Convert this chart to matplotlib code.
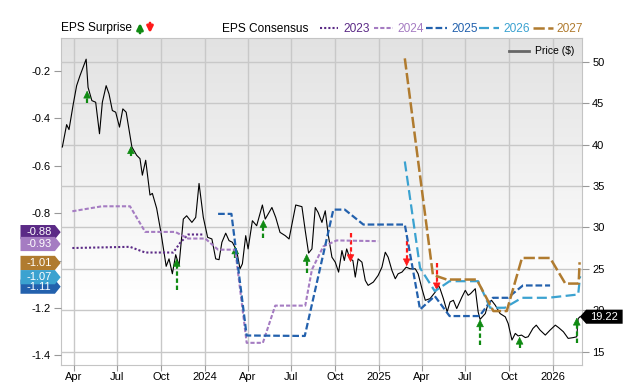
import numpy as np
import pandas as pd
import matplotlib
matplotlib.use("Agg")
import matplotlib.pyplot as plt
import matplotlib.dates as mdates
from matplotlib.lines import Line2D
from matplotlib.patches import Polygon
from matplotlib.colors import LinearSegmentedColormap

plt.rcParams['font.family'] = ['Liberation Sans', 'DejaVu Sans']

# all x positions are days after this date
BASE = pd.Timestamp("2023-03-03")

# price ($), right axis
price_days = [5, 14, 19, 28, 35, 42, 55, 59, 67, 75, 83, 89, 97, 103, 110, 117, 125, 132, 139,
              151, 161, 168, 173, 180, 189, 194, 203, 212, 223, 229, 236, 243, 250, 259, 266,
              277, 285, 292, 301, 310, 319, 327, 334, 340, 348, 355, 362, 371, 378, 383, 390,
              395, 404, 413, 425, 431, 445, 453, 462, 473, 481, 495, 508, 515, 522, 529, 536,
              542, 550, 557, 563, 571, 578, 585, 592, 597, 602, 609, 615, 620, 626, 634, 641,
              647, 658, 668, 676, 683, 689, 697, 704, 710, 718, 727, 735, 746, 752, 760, 767,
              777, 788, 795, 798, 805, 813, 819, 826, 833, 844, 851, 857, 862, 872, 878, 882,
              893, 899, 906, 914, 924, 935, 941, 949, 956, 962, 969, 977, 983, 993, 1000, 1008,
              1019, 1029, 1040, 1047, 1057, 1067, 1078, 1085, 1088, 1092]
price = [39.7, 42.4, 41.8, 44.9, 47.1, 48.3, 50.3, 46.9, 45.3, 45.1, 41.3, 45.1, 47.1, 46.1,
         44.1, 43.9, 42.1, 44.3, 43.9, 39.7, 38.7, 38.3, 36.3, 38.1, 33.9, 34.1, 32.3, 29.4,
         25.3, 26.2, 24.4, 26.7, 25.4, 31.0, 31.4, 30.6, 31.2, 35.3, 31.2, 28.8, 28.6, 26.2,
         26.1, 28.2, 29.3, 28.4, 28.2, 27.2, 25.0, 25.6, 29.0, 27.4, 30.8, 30.2, 32.7, 31.0,
         32.4, 31.2, 29.4, 29.0, 28.6, 32.7, 32.5, 29.6, 26.9, 27.4, 32.4, 31.8, 30.6, 32.0,
         29.2, 26.4, 25.8, 24.6, 27.2, 26.0, 27.4, 26.2, 26.0, 24.0, 26.2, 25.8, 23.6, 23.0,
         23.4, 24.2, 25.2, 27.0, 26.4, 24.8, 23.8, 24.4, 24.6, 25.2, 25.0, 25.0, 24.4, 22.6,
         21.2, 21.4, 22.2, 23.0, 22.6, 21.4, 19.8, 21.0, 21.2, 20.2, 21.6, 22.4, 21.8, 22.0,
         22.6, 19.8, 18.9, 19.6, 20.8, 21.2, 20.6, 19.6, 19.2, 18.4, 16.4, 17.2, 16.9, 17.0,
         16.7, 16.8, 17.8, 18.2, 17.6, 17.0, 17.6, 18.2, 17.9, 17.4, 16.6, 16.7, 16.8, 19.0,
         19.22]

# EPS consensus per fiscal year, left axis
eps_2023_days = [26, 147, 179, 238, 252, 269, 301]
eps_2023 = [-0.947, -0.942, -0.966, -0.966, -0.926, -0.89, -0.89]
eps_2024_days = [26, 88, 147, 179, 242, 269, 305, 332, 368, 392, 426, 452, 515, 529, 553, 581, 668]
eps_2024 = [-0.792, -0.771, -0.771, -0.879, -0.879, -0.907, -0.907, -0.954, -0.954, -1.347,
            -1.347, -1.19, -1.19, -1.038, -0.94, -0.915, -0.918]
eps_2025_days = [332, 360, 392, 514, 574, 598, 637, 724, 756, 787, 818, 881, 909, 940, 972, 1029]
eps_2025 = [-0.803, -0.803, -1.316, -1.318, -0.785, -0.785, -0.848, -0.848, -1.206, -1.15,
            -1.234, -1.234, -1.157, -1.157, -1.105, -1.105]
eps_2026_days = [724, 756, 787, 818, 878, 903, 934, 970, 1025, 1088, 1092]
eps_2026 = [-0.582, -1.031, -1.129, -1.087, -1.087, -1.199, -1.199, -1.157, -1.157, -1.143, -1.066]
eps_2027_days = [724, 783, 812, 875, 910, 938, 970, 1029, 1061, 1089, 1091]
eps_2027 = [-0.147, -1.06, -1.08, -1.08, -1.213, -1.213, -0.989, -0.989, -1.097, -1.097, -1.007]

# EPS surprise arrows, drawn on the price scale
beat_days = [57, 149, 245, 368, 427, 518, 882, 965, 1085]
beat_base = [45.0, 38.6, 22.4, 26.3, 28.7, 24.5, 15.8, 15.5, 16.1]
beat_tip = [46.5, 39.8, 26.2, 27.7, 30.9, 26.8, 18.9, 16.8, 19.1]
miss_days = [610, 728, 791]
miss_base = [29.3, 28.4, 25.7]
miss_tip = [25.8, 25.3, 22.4]

# latest consensus tags on the left
tag_values = [-0.88, -0.93, -1.01, -1.11, -1.07]
tag_labels = ["-0.88", "-0.93", "-1.01", "-1.11", "-1.07"]
last_price = 19.22

C23, C24, C25, C26, C27 = "#5b2a86", "#a57cc2", "#2361ad", "#3ba2d0", "#b07b2f"
tag_colors = [C23, C24, C27, C25, C26]
GREEN, RED = "#0f8a12", "#ff1a1a"


def to_dates(days):
    return BASE + pd.to_timedelta(days, unit="D")


fig = plt.figure(figsize=(6.4, 3.82), dpi=100)
ax = fig.add_axes([0.0948, 0.0445, 0.8153, 0.857])
ax_eps = ax.twinx()

xmin, xmax = to_dates([1.5, 1097])
ax.set_xlim(xmin, xmax)
ax.set_ylim(13.39, 52.9)
ax_eps.set_ylim(-1.4405, -0.0595)

# background gradient (light grey at top fading to white)
frac = np.linspace(1, 0, 200).reshape(-1, 1)
grad = np.clip((frac - 0.2) / 0.8, 0, 1)
cmap = LinearSegmentedColormap.from_list("bg", ["#ffffff", "#e2e2e2"])
ax.imshow(grad, extent=[mdates.date2num(xmin), mdates.date2num(xmax), 13.39, 52.9],
          aspect="auto", cmap=cmap, vmin=0, vmax=1, zorder=0)

# grid
ax.set_yticks([15, 20, 25, 30, 35, 40, 45, 50])
ax.xaxis.set_major_locator(mdates.MonthLocator(bymonth=[1, 4, 7, 10]))
ax.xaxis.set_major_formatter(plt.FuncFormatter(
    lambda v, p: mdates.num2date(v).strftime("%Y" if mdates.num2date(v).month == 1 else "%b")))
ax.grid(True, color="#c8c8c8", lw=1, zorder=1)
ax.set_axisbelow(False)
for s in ax.spines.values():
    s.set_color("#c4c4c4")
for s in ax_eps.spines.values():
    s.set_visible(False)

ax.yaxis.tick_right()
ax_eps.yaxis.tick_left()
ax.tick_params(axis="y", length=5, color="#999999", labelsize=8, pad=2)
ax.tick_params(axis="x", length=4, color="#999999", labelsize=8, pad=1)
ax_eps.set_yticks([-0.2, -0.4, -0.6, -0.8, -1.0, -1.2, -1.4])
ax_eps.yaxis.set_major_formatter(plt.FuncFormatter(lambda v, p: f"{v:g}"))
ax_eps.tick_params(axis="y", length=5, color="#999999", labelsize=8, pad=2)

# price line
ax.plot(to_dates(price_days), price, color="black", lw=0.8, zorder=3)

# surprise arrows
for d, b, t in zip(beat_days, beat_base, beat_tip):
    dt = to_dates([d])[0]
    ax.plot([dt, dt], [b, t - 0.7], color=GREEN, lw=1.6, dashes=(2, 1.2), zorder=4)
    ax.annotate("", xy=(dt, t), xytext=(0, -7), textcoords="offset points",
                arrowprops=dict(arrowstyle="-|>", color=GREEN, lw=0.5, mutation_scale=12,
                                shrinkA=0, shrinkB=0), zorder=5)
for d, b, t in zip(miss_days, miss_base, miss_tip):
    dt = to_dates([d])[0]
    ax.plot([dt, dt], [b, t + 0.7], color=RED, lw=1.6, dashes=(2, 1.2), zorder=4)
    ax.annotate("", xy=(dt, t), xytext=(0, 7), textcoords="offset points",
                arrowprops=dict(arrowstyle="-|>", color=RED, lw=0.5, mutation_scale=12,
                                shrinkA=0, shrinkB=0), zorder=5)

# consensus lines
ax_eps.plot(to_dates(eps_2023_days), eps_2023, color=C23, lw=1.5, dashes=(1, 1))
ax_eps.plot(to_dates(eps_2024_days), eps_2024, color=C24, lw=1.5, dashes=(2, 1))
ax_eps.plot(to_dates(eps_2025_days), eps_2025, color=C25, lw=1.6, dashes=(3, 1.3))
ax_eps.plot(to_dates(eps_2026_days), eps_2026, color=C26, lw=1.6, dashes=(4.5, 2))
ax_eps.plot(to_dates(eps_2027_days), eps_2027, color=C27, lw=1.8, dashes=(4.5, 1.4))

# left value tags
tr = ax_eps.get_yaxis_transform()
h = 0.03
for v, lab, c in zip(tag_values, tag_labels, tag_colors):
    poly = Polygon([(-0.077, v - h), (-0.011, v - h), (0, v), (-0.011, v + h), (-0.077, v + h)],
                   closed=True, transform=tr, facecolor=c, edgecolor="none", clip_on=False, zorder=10)
    ax_eps.add_patch(poly)
    ax_eps.text(-0.042, v, lab, transform=tr, color="white", fontsize=8, ha="center",
                va="center", clip_on=False, zorder=11)

# right price tag
trp = ax.get_yaxis_transform()
hp = 0.85
ax.add_patch(Polygon([(0.995, last_price), (1.007, last_price + hp), (1.077, last_price + hp),
                      (1.077, last_price - hp), (1.007, last_price - hp)], closed=True,
                     transform=trp, facecolor="black", edgecolor="none", clip_on=False, zorder=10))
ax.text(1.042, last_price, f"{last_price:.2f}", transform=trp, color="white", fontsize=8,
        ha="center", va="center", clip_on=False, zorder=11)


def fx(x):
    return x / 640


def fy(y):
    return 1 - y / 382


# header
fig.text(fx(60.7), fy(28.5), "EPS Surprise", fontsize=8.6, va="center", ha="left")
ax.annotate("", xy=(140, 382 - 23), xytext=(140, 382 - 33), xycoords="figure pixels",
            arrowprops=dict(arrowstyle="-|>", color=GREEN, lw=2, mutation_scale=9,
                            shrinkA=0, shrinkB=0))
ax.annotate("", xy=(150, 382 - 33), xytext=(150, 382 - 23), xycoords="figure pixels",
            arrowprops=dict(arrowstyle="-|>", color=RED, lw=2, mutation_scale=9,
                            shrinkA=0, shrinkB=0))
fig.text(fx(222.5), fy(28.5), "EPS Consensus", fontsize=8.6, va="center", ha="left")

legend_items = [("2023", C23, (1, 1), 1.5, 320, 338, 343),
                ("2024", C24, (2, 1), 1.5, 374, 393, 397),
                ("2025", C25, (3, 1.3), 1.6, 426, 447, 451),
                ("2026", C26, (4.5, 2), 1.6, 479, 499, 503),
                ("2027", C27, (4.5, 1.4), 1.8, 533, 553, 556)]
for lab, c, ds, lw, x0, x1, xt in legend_items:
    fig.add_artist(Line2D([fx(x0), fx(x1)], [fy(28), fy(28)], transform=fig.transFigure,
                          color=c, lw=lw, dashes=ds))
    fig.text(fx(xt), fy(28.5), lab, color=c, fontsize=8.6, va="center", ha="left")

fig.add_artist(Line2D([fx(509), fx(529)], [fy(51), fy(51)], transform=fig.transFigure,
                      color="#666666", lw=2))
fig.text(fx(535), fy(51), "Price ($)", fontsize=7.5, va="center", ha="left")

fig.savefig("out.png", dpi=100)
